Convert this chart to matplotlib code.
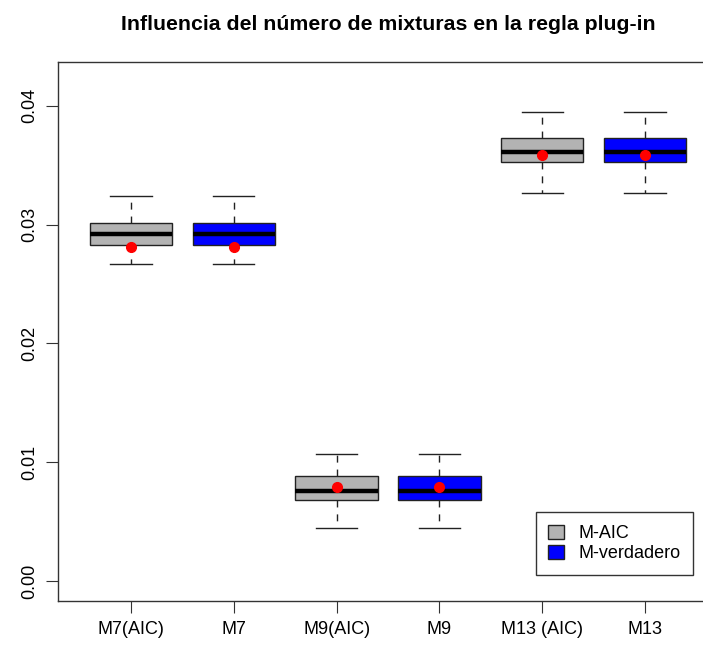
import numpy as np
import matplotlib.pyplot as plt
from matplotlib.patches import Patch

plt.rcParams['font.family'] = ['Liberation Sans', 'DejaVu Sans']

labels = ["M7(AIC)", "M7", "M9(AIC)", "M9", "M13 (AIC)", "M13"]
whislo = [0.0267, 0.0267, 0.00447, 0.00447, 0.03263, 0.03263]
q1 = [0.0283, 0.0283, 0.00682, 0.00682, 0.03525, 0.03525]
med = [0.0292, 0.0292, 0.0076, 0.0076, 0.03609, 0.03609]
q3 = [0.0301, 0.0301, 0.0088, 0.0088, 0.03727, 0.03727]
whishi = [0.0324, 0.0324, 0.01068, 0.01068, 0.03946, 0.03946]
means = [0.0281, 0.0281, 0.0079, 0.0079, 0.03586, 0.03586]
colors = ["#B3B3B3", "#0000FF"] * 3

stats = []
for i in range(len(labels)):
    stats.append(dict(label=labels[i], whislo=whislo[i], q1=q1[i], med=med[i],
                      q3=q3[i], whishi=whishi[i], fliers=[]))

fig = plt.figure(figsize=(7.03, 6.48), dpi=100)
ax = fig.add_axes([58 / 703, 47 / 648, 660 / 703, 539 / 648])

pos = np.arange(1, len(labels) + 1)
bp = ax.bxp(stats, positions=pos, widths=0.8, patch_artist=True,
            boxprops=dict(edgecolor="#222222", linewidth=1.0),
            medianprops=dict(color="black", linewidth=3.2, solid_capstyle="butt"),
            whiskerprops=dict(color="#222222", linewidth=1.0, linestyle=(0, (5, 5))),
            capprops=dict(color="#222222", linewidth=1.0),
            capwidths=0.4)
for patch, c in zip(bp["boxes"], colors):
    patch.set_facecolor(c)

# media de cada grupo
ax.plot(pos, means, "o", color="red", markersize=7, zorder=5)

ax.set_xlim(0.29, 6.71)
ax.set_ylim(-0.00168, 0.04368)
ax.set_yticks([0.0, 0.01, 0.02, 0.03, 0.04])
ax.set_yticklabels(["0.00", "0.01", "0.02", "0.03", "0.04"], rotation=90, va="center")
ax.set_xticks(pos)
ax.set_xticklabels(labels)
ax.tick_params(labelsize=13, length=8.5, width=0.8, color="#333333", pad=6)
for s in ax.spines.values():
    s.set_color("#333333")
    s.set_linewidth(1.0)

ax.set_title("Influencia del número de mixturas en la regla plug-in",
             fontsize=15.3, fontweight="bold", pad=23)

handles = [Patch(facecolor=colors[0], edgecolor="#222222", label="M-AIC"),
           Patch(facecolor=colors[1], edgecolor="#222222", label="M-verdadero")]
leg = ax.legend(handles=handles, loc="lower right", bbox_to_anchor=(0.962, 0.048),
                borderaxespad=0, fontsize=13, fancybox=False, framealpha=1,
                edgecolor="#333333", handlelength=0.85, handleheight=0.85,
                handletextpad=0.8, borderpad=0.7, labelspacing=0.15)
leg.get_frame().set_linewidth(1.0)

fig.savefig("out.png", dpi=100)
